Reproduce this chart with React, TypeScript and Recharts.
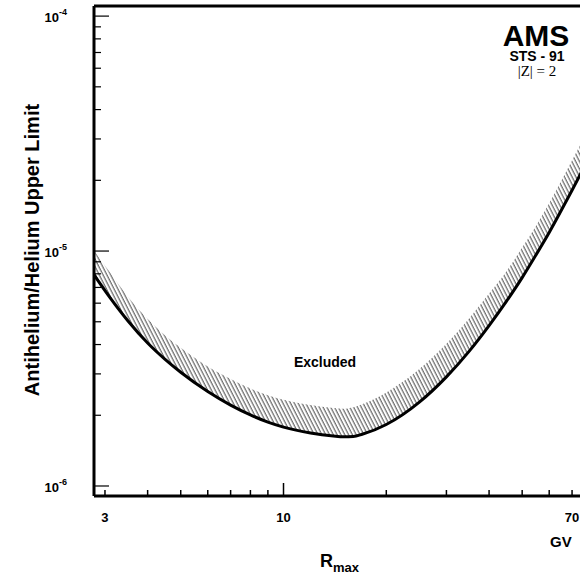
import React from 'react'
import { ComposedChart, Area, Line, XAxis, YAxis, ReferenceLine } from 'recharts'

// rigidity cut-off (GV) and the two limit curves
const rigidity = [2.79, 3.1, 3.5, 4, 4.5, 5, 6, 7, 8, 9, 10, 12, 14, 15, 16, 17, 20, 25, 30, 35, 40, 45, 50, 55, 60, 65, 70, 75]
const lowerLimit = [
    7.9e-6, 6.35e-6, 5.05e-6, 4.06e-6, 3.46e-6, 3.05e-6, 2.525e-6, 2.21e-6, 2.007e-6, 1.87e-6,
    1.781e-6, 1.681e-6, 1.632e-6, 1.62e-6, 1.625e-6, 1.66e-6, 1.827e-6, 2.275e-6, 2.914e-6, 3.75e-6,
    4.815e-6, 6.12e-6, 7.71e-6, 9.68e-6, 1.2e-5, 1.484e-5, 1.814e-5, 2.2e-5,
]
const upperLimit = [
    1.0e-5, 8.12e-6, 6.39e-6, 5.14e-6, 4.375e-6, 3.873e-6, 3.225e-6, 2.852e-6, 2.602e-6, 2.435e-6,
    2.331e-6, 2.212e-6, 2.148e-6, 2.131e-6, 2.163e-6, 2.227e-6, 2.5e-6, 3.144e-6, 4.03e-6, 5.18e-6,
    6.59e-6, 8.21e-6, 1.035e-5, 1.286e-5, 1.596e-5, 1.98e-5, 2.434e-5, 2.93e-5,
]

const xTicks = [3, 4, 5, 6, 7, 8, 9, 10, 20, 30, 40, 50, 60, 70]
const xLabelled = [3, 10, 70]
const yDecades = [-6, -5, -4]
const yTicks = [1e-6, 2e-6, 3e-6, 4e-6, 5e-6, 6e-6, 7e-6, 8e-6, 9e-6, 1e-5, 2e-5, 3e-5, 4e-5, 5e-5, 6e-5, 7e-5, 8e-5, 9e-5, 1e-4]

const X_MIN = 2.786
const X_MAX = 76.9
const Y_MIN = Math.pow(10, -6.0426)
const Y_MAX = Math.pow(10, -3.957)

const FONT = '"Liberation Sans", Arial, Helvetica, sans-serif'

const data = rigidity.map((r, i) => ({
    r,
    lower: lowerLimit[i],
    band: [lowerLimit[i], upperLimit[i]],
}))

const isDecade = (v: number) => yDecades.some((d) => Math.abs(Math.log10(v) - d) < 1e-6)

function XTick(props: any) {
    const { x, y, payload } = props
    const v = payload.value
    const len = v === 10 ? 13 : 6
    return (
        <g>
            <line x1={x} x2={x} y1={y} y2={y - len} stroke="#000" strokeWidth={1.5} />
            {xLabelled.includes(v) && (
                <text x={x} y={y + 26} textAnchor="middle" fontFamily={FONT} fontWeight="bold" fontSize={13} fill="#000">
                    {v}
                </text>
            )}
        </g>
    )
}

function YTick(props: any) {
    const { x, y, payload } = props
    const v = payload.value
    const major = isDecade(v)
    return (
        <g>
            <line x1={x} x2={x + (major ? 15 : 7)} y1={y} y2={y} stroke="#000" strokeWidth={1.2} />
            {major && (
                <text x={x - 27} y={y + 6} textAnchor="end" fontFamily={FONT} fontWeight="bold" fontSize={13} fill="#000">
                    10
                    <tspan dy={-7} fontSize={9}>{Math.round(Math.log10(v))}</tspan>
                </text>
            )}
        </g>
    )
}

export default function App() {
    return (
        <div style={{ position: 'fixed', left: 0, top: 0, width: 580, height: 578, overflow: 'hidden', background: '#fff' }}>
            <ComposedChart width={600} height={578} data={data} margin={{ top: 6, right: 14, left: 0, bottom: 0 }}>
                <defs>
                    <pattern id="hatch" patternUnits="userSpaceOnUse" width={3.4} height={10} patternTransform="rotate(-27)">
                        <line x1={1} y1={0} x2={1} y2={10} stroke="#333" strokeWidth={0.9} />
                    </pattern>
                </defs>
                <XAxis
                    dataKey="r"
                    type="number"
                    scale="log"
                    domain={[X_MIN, X_MAX]}
                    allowDataOverflow
                    ticks={xTicks}
                    interval={0}
                    tickSize={0}
                    tickMargin={0}
                    tickLine={false}
                    axisLine={{ stroke: '#000', strokeWidth: 3 }}
                    height={82}
                    tick={(p: any) => <XTick {...p} />}
                />
                <YAxis
                    type="number"
                    scale="log"
                    domain={[Y_MIN, Y_MAX]}
                    allowDataOverflow
                    ticks={yTicks}
                    interval={0}
                    tickSize={0}
                    tickMargin={0}
                    tickLine={false}
                    axisLine={{ stroke: '#000', strokeWidth: 3 }}
                    width={94}
                    tick={(p: any) => <YTick {...p} />}
                />
                <Area
                    dataKey="band"
                    type="monotone"
                    fill="url(#hatch)"
                    fillOpacity={1}
                    stroke="none"
                    isAnimationActive={false}
                />
                <Line
                    dataKey="lower"
                    type="monotone"
                    stroke="#000"
                    strokeWidth={3}
                    dot={false}
                    isAnimationActive={false}
                />
                <ReferenceLine y={Y_MAX} stroke="#000" strokeWidth={3} />
                <ReferenceLine x={X_MAX} stroke="#000" strokeWidth={3} />
            </ComposedChart>
            <svg width={580} height={578} style={{ position: 'absolute', left: 0, top: 0, pointerEvents: 'none' }}>
                <text
                    x={39}
                    y={250}
                    transform="rotate(-90, 39, 250)"
                    textAnchor="middle"
                    fontFamily={FONT}
                    fontWeight="bold"
                    fontSize={20}
                >
                    Antihelium/Helium Upper Limit
                </text>
                <text x={325} y={367} textAnchor="middle" fontFamily={FONT} fontWeight="bold" fontSize={14}>
                    Excluded
                </text>
                <text x={536} y={46} textAnchor="middle" fontFamily={FONT} fontWeight="bold" fontSize={30}>
                    AMS
                </text>
                <text x={537} y={61} textAnchor="middle" fontFamily={FONT} fontWeight="bold" fontSize={14}>
                    STS - 91
                </text>
                <text x={537} y={76} textAnchor="middle" fontFamily='"Liberation Serif", "Times New Roman", serif' fontSize={15}>
                    |Z| = 2
                </text>
                <text x={320} y={567} fontFamily={FONT} fontWeight="bold" fontSize={18}>
                    R<tspan dy={5} fontSize={13}>max</tspan>
                </text>
                <text x={550} y={547} fontFamily={FONT} fontWeight="bold" fontSize={15}>
                    GV
                </text>
            </svg>
        </div>
    )
}
